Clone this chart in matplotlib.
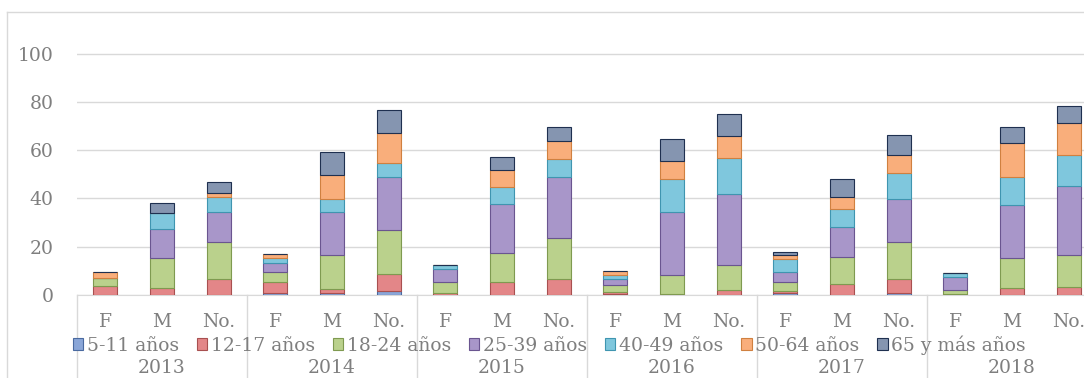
import numpy as np
import matplotlib
matplotlib.use('Agg')
import matplotlib.pyplot as plt
from matplotlib.lines import Line2D
from matplotlib.patches import Patch

# data
years = ['2013', '2014', '2015', '2016', '2017', '2018']
sexes = ['F', 'M', 'No.']
age_groups = ['5-11 años', '12-17 años', '18-24 años', '25-39 años',
              '40-49 años', '50-64 años', '65 y más años']

# one list per age group, 18 bars: (F, M, No.) x 6 years
a_5_11 = [0, 0, 0, 0.7, 1.0, 1.8, 0, 0, 0, 0.6, 0, 0, 0.7, 0, 1.0, 0, 0, 0]
a_12_17 = [3.7, 2.8, 6.5, 4.8, 1.4, 6.9, 0.7, 5.5, 6.5, 0.5, 0.5, 2.1, 1.0, 4.6, 5.5, 0.5, 2.8, 3.4]
a_18_24 = [3.4, 12.4, 15.6, 4.1, 14.2, 18.2, 4.8, 11.8, 17.0, 3.0, 7.8, 10.3, 3.8, 11.3, 15.6, 1.6, 12.4, 13.2]
a_25_39 = [0, 12.3, 12.4, 3.5, 17.9, 21.9, 5.1, 20.4, 25.3, 2.4, 26.2, 29.4, 4.1, 12.4, 17.7, 5.5, 22.1, 28.5]
a_40_49 = [0, 6.3, 6.2, 2.1, 5.1, 6.1, 1.8, 7.1, 7.4, 1.8, 13.5, 14.8, 5.2, 7.2, 10.8, 1.4, 11.4, 12.9]
a_50_64 = [2.3, 0, 1.7, 1.8, 10.1, 12.1, 0, 7.0, 7.6, 1.6, 7.7, 9.2, 1.8, 5.2, 7.4, 0, 14.1, 13.1]
a_65 = [0, 4.3, 4.5, 0, 9.6, 9.6, 0, 5.2, 5.9, 0, 9.1, 9.1, 1.1, 7.5, 8.3, 0, 6.9, 7.2]
series = [a_5_11, a_12_17, a_18_24, a_25_39, a_40_49, a_50_64, a_65]

fills = ['#8aa6d8', '#e38688', '#bad18c', '#a896c9', '#7fc7dd', '#f9ae7b', '#8595b0']
edges = ['#4a6aa0', '#a85050', '#7f9a50', '#6a5590', '#3f95b0', '#d08040', '#1f3050']

grey = '#7f7f7f'
fs = 13.5
plt.rcParams['font.family'] = ['DejaVu Serif']

W, H = 1084, 378
fig = plt.figure(figsize=(W / 100, H / 100), dpi=100)
ax = fig.add_axes([77 / W, 83 / H, 1020 / W, 242 / H])

x = np.arange(len(years) * len(sexes))
bottom = np.zeros(len(x))
for vals, fc, ec in zip(series, fills, edges):
    v = np.array(vals)
    ax.bar(x, v, width=0.42, bottom=bottom, color=fc, edgecolor=ec, linewidth=0.8, zorder=3)
    bottom += v

ax.set_xlim(-0.5, len(x) - 0.5)
ax.set_ylim(0, 100.3)
ax.set_yticks([0, 20, 40, 60, 80, 100])
ax.grid(axis='y', color='#d9d9d9', linewidth=1, zorder=0)
for s in ['top', 'right', 'left']:
    ax.spines[s].set_visible(False)
ax.spines['bottom'].set_color('#d9d9d9')
ax.tick_params(axis='y', length=0, pad=17, labelsize=fs, labelcolor=grey)
ax.tick_params(axis='x', length=0, pad=13, labelsize=fs, labelcolor=grey)
ax.set_xticks(x)
ax.set_xticklabels(sexes * len(years))

# year labels and group separators
for i, yr in enumerate(years):
    ax.text(i * 3 + 1, -0.3, yr, transform=ax.get_xaxis_transform(),
            ha='center', va='center', fontsize=fs, color=grey)
    ax.add_line(Line2D([i * 3 - 0.5] * 2, [0, -0.4], transform=ax.get_xaxis_transform(),
                       color='#d9d9d9', linewidth=1, clip_on=False))

# chart frame
fig.add_artist(Line2D([7 / W, 1], [1 - 12 / H] * 2, color='#d9d9d9', linewidth=1))
fig.add_artist(Line2D([7 / W] * 2, [0, 1 - 12 / H], color='#d9d9d9', linewidth=1))

handles = [Patch(facecolor=fc, edgecolor=ec, linewidth=0.8) for fc, ec in zip(fills, edges)]
fig.legend(handles, age_groups, loc='center left', bbox_to_anchor=(73 / W, 1 - 345 / H),
           ncol=7, frameon=False, fontsize=fs, labelcolor=grey,
           handlelength=0.55, handleheight=0.55, handletextpad=0.2, columnspacing=0.95,
           borderpad=0, borderaxespad=0)

fig.savefig('out.png', dpi=100)
